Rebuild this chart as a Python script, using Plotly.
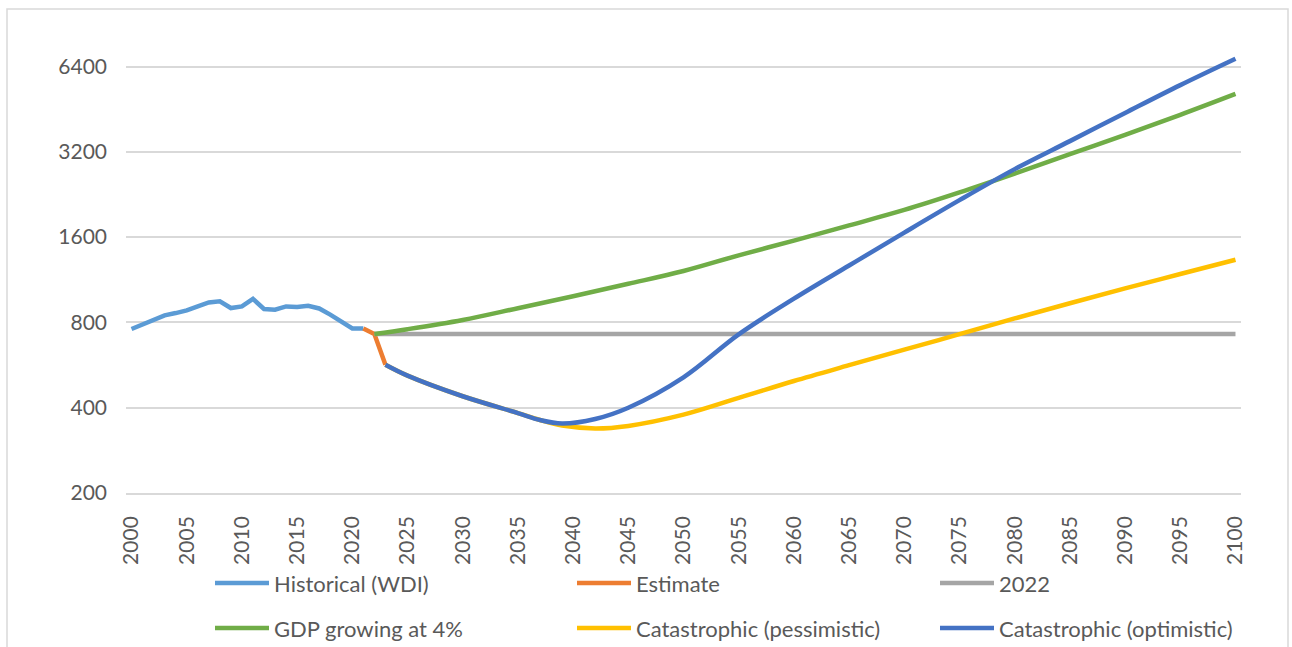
import math
import plotly.graph_objects as go

# ---- data -----------------------------------------------------------------
hist_years = list(range(2000, 2022))
hist_values = [758, 787, 818, 847, 863, 882, 911, 941, 949, 899, 911,
               968, 892, 887, 911, 907, 916, 896, 852, 807, 762, 762]

est_years = [2021, 2022, 2023]
est_values = [762, 728, 567]

base_years = [2022, 2100]
base_values = [728, 728]

gdp4_years = [2022, 2025, 2030, 2035, 2040, 2045, 2050, 2055, 2060,
              2065, 2070, 2075, 2080, 2085, 2090, 2095, 2100]
gdp4_values = [728, 757, 816, 898, 990, 1095, 1215, 1380, 1555,
               1760, 1995, 2300, 2680, 3140, 3670, 4320, 5120]

pess_years = [2023, 2025, 2030, 2035, 2037, 2039, 2042, 2045,
              2050, 2055, 2060, 2065, 2070, 2075, 2080, 2085, 2090, 2095, 2100]
pess_values = [567, 519, 439, 383, 362, 346, 338, 345,
               378, 433, 497, 565, 641, 727, 826, 935, 1055, 1185, 1331]

opt_years = [2023, 2025, 2030, 2035, 2037, 2039, 2042, 2045,
             2050, 2055, 2060, 2065, 2070, 2075, 2080, 2085, 2090, 2095, 2100]
opt_values = [567, 519, 439, 383, 362, 352, 365, 400,
              512, 726, 970, 1270, 1660, 2160, 2780, 3490, 4388, 5502, 6817]

y_ticks = [200, 400, 800, 1600, 3200, 6400]
x_ticks = list(range(2000, 2101, 5))

series = [
    ("Historical (WDI)", hist_years, hist_values, "#5B9BD5", "linear"),
    ("Estimate", est_years, est_values, "#ED7D31", "linear"),
    ("2022", base_years, base_values, "#A5A5A5", "linear"),
    ("GDP growing at 4%", gdp4_years, gdp4_values, "#70AD47", "spline"),
    ("Catastrophic (pessimistic)", pess_years, pess_values, "#FFC000", "spline"),
    ("Catastrophic (optimistic)", opt_years, opt_values, "#4472C4", "spline"),
]

# ---- layout geometry (pixels) ---------------------------------------------
W, H = 1292, 647
ML, MR, MT, MB = 126, 51, 20, 154
PW, PH = W - ML - MR, H - MT - MB
PX_PER_DOUBLING = 85.3

FONT = "Lato, 'Open Sans', sans-serif"
TEXT = "#595959"
GRID = "#D9D9D9"


def px_x(px):
    return (px - ML) / PW


def px_y(py):
    return (H - MB - py) / PH


fig = go.Figure()
for name, xs, ys, color, shape in series:
    line = dict(color=color, width=4.5, shape=shape)
    if shape == "spline":
        line["smoothing"] = 1.0
    fig.add_trace(go.Scatter(x=xs, y=ys, mode="lines", name=name,
                             line=line, showlegend=False))

y_lo = math.log10(200)
y_hi = y_lo + (PH / PX_PER_DOUBLING) * math.log10(2)

fig.update_layout(
    width=W, height=H,
    margin=dict(l=ML, r=MR, t=MT, b=MB),
    paper_bgcolor="white", plot_bgcolor="white",
    font=dict(family=FONT, color=TEXT, size=21),
    xaxis=dict(
        range=[1999.5, 2100.5], tickmode="array", tickvals=x_ticks,
        ticktext=[str(v) for v in x_ticks], tickangle=-90,
        showgrid=False, zeroline=False, showline=True,
        linecolor=GRID, linewidth=1.5, ticks="",
        tickfont=dict(family=FONT, size=21, color=TEXT),
        ticklabelstandoff=13,
    ),
    yaxis=dict(
        type="log", range=[y_lo, y_hi], tickmode="array",
        tickvals=y_ticks, ticktext=[str(v) for v in y_ticks],
        showgrid=True, gridcolor=GRID, gridwidth=1.5,
        zeroline=False, showline=False, ticks="",
        tickfont=dict(family=FONT, size=21, color=TEXT),
        ticklabelstandoff=18,
    ),
)

# chart frame
shapes = [dict(type="rect", xref="paper", yref="paper",
               x0=px_x(7), x1=px_x(1288), y0=px_y(700), y1=px_y(9),
               line=dict(color=GRID, width=1.5), fillcolor="rgba(0,0,0,0)",
               layer="below")]

# legend: two rows of three entries
annotations = []
col_x = [215, 577, 940]
row_y = [583, 628]
for i, (name, _, _, color, _) in enumerate(series):
    cx = col_x[i % 3]
    cy = row_y[i // 3]
    shapes.append(dict(type="line", xref="paper", yref="paper",
                       x0=px_x(cx), x1=px_x(cx + 54), y0=px_y(cy), y1=px_y(cy),
                       line=dict(color=color, width=4.5)))
    annotations.append(dict(xref="paper", yref="paper", x=px_x(cx + 57),
                            y=px_y(cy), xanchor="left", yanchor="middle",
                            text=name, showarrow=False,
                            font=dict(family=FONT, size=22, color=TEXT)))

fig.update_layout(shapes=shapes, annotations=annotations)

fig.write_html("out.html")
